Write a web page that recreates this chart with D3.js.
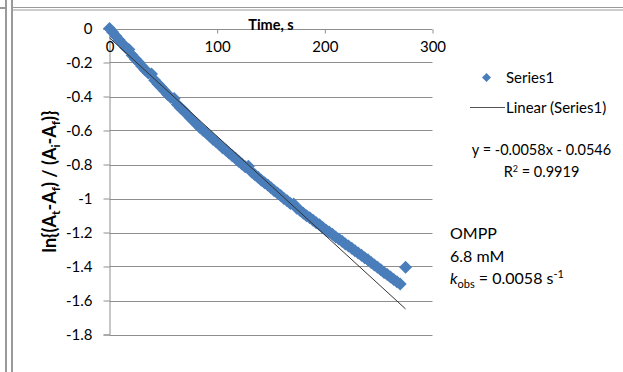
<!DOCTYPE html>
<html>
<head>
<meta charset="utf-8">
<script src="https://cdn.jsdelivr.net/npm/d3@7"></script>
<style>
  html, body { margin: 0; padding: 0; background: #fff; }
  svg { display: block; }
  text { font-family: Lato, "Open Sans", "Liberation Sans", sans-serif; fill: #000; }
</style>
</head>
<body>
<svg id="chart" width="623" height="372"></svg>
<script>
// Time points (s) and ln{(At-Af)/(Ai-Af)} readings
const times = [0,3,6,9,12,15,18,21,24,27,30,33,36,39,42,45,48,51,54,57,60,63,66,69,72,75,78,81,84,87,90,93,96,99,
  102,105,108,111,114,117,120,123,126,129,132,135,138,141,144,147,150,153,156,159,162,165,168,171,174,177,180,
  183,186,189,192,195,198,201,204,207,210,213,216,219,222,225,228,231,234,237,240,243,246,249,252,255,258,261,
  264,267,270,275];
const lnRatio = [0.000,-0.022,-0.046,-0.067,-0.090,-0.112,-0.124,-0.158,-0.180,-0.199,-0.222,-0.242,-0.262,-0.268,
  -0.305,-0.327,-0.345,-0.366,-0.388,-0.406,-0.412,-0.447,-0.467,-0.484,-0.505,-0.525,-0.542,-0.563,-0.582,-0.600,
  -0.615,-0.633,-0.651,-0.666,-0.683,-0.701,-0.715,-0.732,-0.749,-0.763,-0.781,-0.797,-0.813,-0.811,-0.844,-0.861,
  -0.875,-0.892,-0.908,-0.921,-0.937,-0.954,-0.967,-0.983,-1.000,-1.013,-1.029,-1.032,-1.058,-1.071,-1.087,-1.102,
  -1.113,-1.128,-1.143,-1.155,-1.170,-1.185,-1.197,-1.211,-1.226,-1.238,-1.252,-1.267,-1.279,-1.293,-1.308,-1.320,
  -1.334,-1.349,-1.361,-1.376,-1.391,-1.404,-1.419,-1.435,-1.447,-1.462,-1.477,-1.489,-1.503,-1.405];

// Linear trendline parameters
const fitSlope = -0.0058;
const fitIntercept = -0.0546;
const fitR2 = 0.9919;

const xTicks = [0, 100, 200, 300];
const yTicks = [0, -0.2, -0.4, -0.6, -0.8, -1, -1.2, -1.4, -1.6, -1.8];
const seriesName = "Series1";

const svg = d3.select("#chart");

// Frame lines along the left and top edges
const frame = svg.append("g").attr("stroke", "#9a9a9a").attr("fill", "none");
frame.append("line").attr("x1", 6).attr("x2", 6).attr("y1", 0).attr("y2", 372).attr("stroke-width", 2);
frame.append("line").attr("x1", 12).attr("x2", 12).attr("y1", 0).attr("y2", 372).attr("stroke-width", 2);
frame.append("line").attr("x1", 0).attr("x2", 5).attr("y1", 8).attr("y2", 8).attr("stroke-width", 2);
frame.append("line").attr("x1", 13).attr("x2", 623).attr("y1", 7.5).attr("y2", 7.5).attr("stroke-width", 1.2);
frame.append("line").attr("x1", 13).attr("x2", 623).attr("y1", 10).attr("y2", 10).attr("stroke-width", 1.2);

const x = d3.scaleLinear().domain([0, 300]).range([109.5, 432.5]);
const y = d3.scaleLinear().domain([-1.8, 0]).range([334.5, 28.5]);

const gridColor = "#8e8e8e";

// Horizontal gridlines
svg.append("g").selectAll("line").data(yTicks.filter(d => d !== 0)).join("line")
  .attr("x1", x(0)).attr("x2", x(300))
  .attr("y1", d => Math.round(y(d)) + 0.5).attr("y2", d => Math.round(y(d)) + 0.5)
  .attr("stroke", gridColor).attr("stroke-width", 1);

// Y axis
const yAxis = d3.axisLeft(y).tickValues(yTicks).tickSize(6).tickPadding(11)
  .tickFormat(d => String(+d.toFixed(1)));
const gy = svg.append("g").attr("transform", `translate(${x(0)},0)`).call(yAxis);
gy.select(".domain").attr("stroke", gridColor);
gy.selectAll(".tick line").attr("stroke", gridColor);
gy.selectAll(".tick text").attr("font-size", 15).attr("font-family", "Lato, sans-serif").attr("fill", "#000");

// X axis crossing at y = 0
const xAxis = d3.axisBottom(x).tickValues(xTicks).tickSize(4).tickPadding(8).tickFormat(d3.format("d"));
const gx = svg.append("g").attr("transform", `translate(0,${Math.round(y(0)) + 0.5})`).call(xAxis);
gx.select(".domain").attr("stroke", gridColor).attr("d", `M${x(0) - 6},0H${x(300)}`);
gx.selectAll(".tick line").attr("stroke", gridColor);
gx.selectAll(".tick text").attr("font-size", 15).attr("font-family", "Lato, sans-serif").attr("fill", "#000");

// Data markers (diamonds)
const markerColor = "#4a7ebb";
const h = 6.5;
const diamond = `M0,${-h}L${h},0L0,${h}L${-h},0Z`;
const points = times.map((t, i) => ({ t, v: lnRatio[i] }));
svg.append("g").selectAll("path").data(points).join("path")
  .attr("d", diamond)
  .attr("transform", d => `translate(${x(d.t)},${y(d.v)})`)
  .attr("fill", markerColor);

// Linear trendline over the data range
const tMin = d3.min(times), tMax = d3.max(times);
const fit = t => fitSlope * t + fitIntercept;
svg.append("line")
  .attr("x1", x(tMin)).attr("y1", y(fit(tMin)))
  .attr("x2", x(tMax)).attr("y2", y(fit(tMax)))
  .attr("stroke", "#333").attr("stroke-width", 1);

// Axis titles
svg.append("text").attr("x", (x(0) + x(300)) / 2).attr("y", 30)
  .attr("text-anchor", "middle").attr("font-size", 14.5).attr("font-weight", "bold").text("Time, s");

const yt = svg.append("text")
  .attr("transform", `translate(56,${(y(0) + y(-1.8)) / 2}) rotate(-90)`)
  .attr("text-anchor", "middle").attr("font-size", 18).attr("font-weight", "bold");
const subParts = [["ln{(A", null], ["t", "sub"], ["-A", null], ["f", "sub"], [") / (A", null],
  ["i", "sub"], ["-A", null], ["f", "sub"], [")}", null]];
subParts.forEach(([s, kind]) => {
  const ts = yt.append("tspan").text(s);
  if (kind === "sub") ts.attr("font-size", 12).attr("baseline-shift", "-4");
});

// Legend
const legX = 486.5;
svg.append("path").attr("d", `M0,-4.5L4.5,0L0,4.5L-4.5,0Z`)
  .attr("transform", `translate(${legX},77.5)`).attr("fill", markerColor);
svg.append("text").attr("x", 506).attr("y", 77.5).attr("dy", "0.35em")
  .attr("font-size", 15).text(seriesName);
svg.append("line").attr("x1", 470).attr("x2", 505).attr("y1", 107.5).attr("y2", 107.5)
  .attr("stroke", "#555").attr("stroke-width", 1.2);
svg.append("text").attr("x", 506).attr("y", 107.5).attr("dy", "0.35em")
  .attr("font-size", 15).text(`Linear (${seriesName})`);

// Trendline equation and R²
const eqText = `y = ${fitSlope}x - ${Math.abs(fitIntercept)}`;
svg.append("text").attr("x", 541.5).attr("y", 150).attr("dy", "0.35em")
  .attr("text-anchor", "middle").attr("font-size", 14.5).text(eqText);
const r2 = svg.append("text").attr("x", 541.5).attr("y", 171.5).attr("dy", "0.35em")
  .attr("text-anchor", "middle").attr("font-size", 14.5);
r2.append("tspan").text("R");
r2.append("tspan").attr("font-size", 9).attr("baseline-shift", "5").text("2");
r2.append("tspan").text(` = ${fitR2}`);

// Experiment notes
const note = svg.append("g").attr("font-size", 16);
note.append("text").attr("x", 450).attr("y", 233).attr("dy", "0.35em").text("OMPP");
note.append("text").attr("x", 450).attr("y", 256).attr("dy", "0.35em").text("6.8 mM");
const k = note.append("text").attr("x", 450).attr("y", 278.5).attr("dy", "0.35em");
k.append("tspan").attr("font-style", "italic").text("k");
k.append("tspan").attr("font-size", 11).attr("baseline-shift", "-4").text("obs");
k.append("tspan").text(` = ${Math.abs(fitSlope)} s`);
k.append("tspan").attr("font-size", 11).attr("baseline-shift", "6").text("-1");
</script>
</body>
</html>
